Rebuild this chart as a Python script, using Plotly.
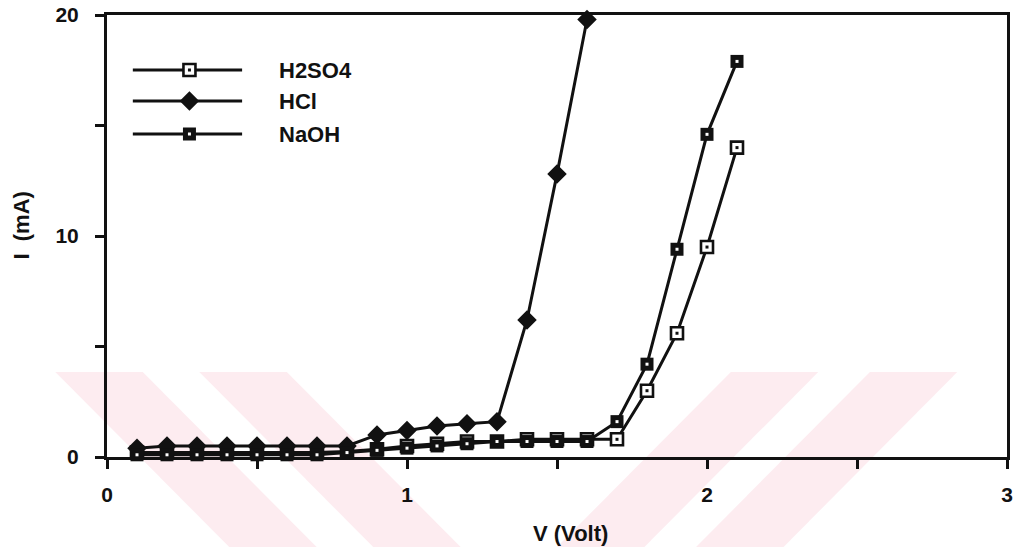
import plotly.graph_objects as go

# Current-voltage measurements in three electrolytes
volts = [0.1, 0.2, 0.3, 0.4, 0.5, 0.6, 0.7, 0.8, 0.9, 1.0, 1.1,
         1.2, 1.3, 1.4, 1.5, 1.6, 1.7, 1.8, 1.9, 2.0, 2.1]
volts_hcl = volts[:16]

h2so4_ma = [0.2, 0.2, 0.2, 0.2, 0.2, 0.2, 0.2, 0.25, 0.35, 0.5, 0.6,
            0.7, 0.7, 0.8, 0.8, 0.8, 0.8, 3.0, 5.6, 9.5, 14.0]
hcl_ma = [0.4, 0.5, 0.5, 0.5, 0.5, 0.5, 0.5, 0.5, 1.0, 1.2, 1.4,
          1.5, 1.6, 6.2, 12.8, 19.8]
naoh_ma = [0.1, 0.1, 0.1, 0.1, 0.1, 0.1, 0.1, 0.2, 0.3, 0.4, 0.5,
           0.6, 0.7, 0.7, 0.7, 0.7, 1.6, 4.2, 9.4, 14.6, 17.9]

series_names = ["H2SO4", "HCl", "NaOH"]

x_tickvals = [0, 0.5, 1, 1.5, 2, 2.5, 3]
x_ticktext = ["0", "", "1", "", "2", "", "3"]
y_tickvals = [0, 5, 10, 15, 20]
y_ticktext = ["0", "", "10", "", "20"]

INK = "#111111"
TINT = "rgba(246, 170, 185, 0.22)"
FONT = "Liberation Sans, Arial, sans-serif"

W, H = 1016, 547
M_L, M_R, M_T, M_B = 107, 3, 15, 90
PLOT_W, PLOT_H = W - M_L - M_R, H - M_T - M_B


def px_x(px):
    """Page pixel column -> paper x (0..1 across the plot area)."""
    return (px - M_L) / PLOT_W


def px_y(py):
    """Page pixel row -> paper y (0..1 up the plot area)."""
    return (H - M_B - py) / PLOT_H


marker_styles = {
    "H2SO4": dict(symbol="square", size=12, color="white",
                  line=dict(color=INK, width=2.6)),
    "HCl": dict(symbol="diamond", size=15, color=INK,
                line=dict(color=INK, width=0)),
    "NaOH": dict(symbol="square", size=13, color=INK,
                 line=dict(color=INK, width=0)),
}

fig = go.Figure()

series = [("H2SO4", volts, h2so4_ma), ("HCl", volts_hcl, hcl_ma),
          ("NaOH", volts, naoh_ma)]
for name, xs, ys in series:
    fig.add_trace(go.Scatter(
        x=xs, y=ys, name=name, mode="lines+markers",
        line=dict(color=INK, width=3),
        marker=marker_styles[name], cliponaxis=False, showlegend=False,
    ))
# small centre dots inside the square markers
for name, xs, ys in [("H2SO4", volts, h2so4_ma), ("NaOH", volts, naoh_ma)]:
    fig.add_trace(go.Scatter(
        x=xs, y=ys, mode="markers", hoverinfo="skip", showlegend=False,
        marker=dict(symbol="square", size=3,
                    color=INK if name == "H2SO4" else "white"),
        cliponaxis=False,
    ))

# key drawn on an overlay axis spanning the plot area (0..1 in both directions)
key_rows = [px_y(70), px_y(101), px_y(134)]
key_x0, key_xm, key_x1, key_tx = px_x(133), px_x(190), px_x(243), px_x(278)
for name, row in zip(series_names, key_rows):
    fig.add_trace(go.Scatter(
        x=[key_x0, key_x1], y=[row, row], mode="lines", xaxis="x2", yaxis="y2",
        line=dict(color=INK, width=3), hoverinfo="skip", showlegend=False,
    ))
    fig.add_trace(go.Scatter(
        x=[key_xm], y=[row], mode="markers", xaxis="x2", yaxis="y2",
        marker=marker_styles[name], hoverinfo="skip", showlegend=False,
    ))
    if name != "HCl":
        fig.add_trace(go.Scatter(
            x=[key_xm], y=[row], mode="markers", xaxis="x2", yaxis="y2",
            marker=dict(symbol="square", size=3,
                        color=INK if name == "H2SO4" else "white"),
            hoverinfo="skip", showlegend=False,
        ))
    fig.add_annotation(
        x=key_tx, y=row, xref="x2", yref="y2", text=name, showarrow=False,
        xanchor="left", yanchor="middle",
        font=dict(family=FONT, size=22, color=INK, weight="bold"),
    )

# axis titles
fig.add_annotation(
    x=px_x(574), y=px_y(533), xref="paper", yref="paper",
    text="V (Volt)", showarrow=False, xanchor="center", yanchor="middle",
    font=dict(family=FONT, size=22, color=INK, weight="bold"),
)
fig.add_annotation(
    x=px_x(20), y=px_y(226), xref="paper", yref="paper",
    text="I  (mA)", showarrow=False, textangle=-90,
    xanchor="center", yanchor="middle",
    font=dict(family=FONT, size=22, color=INK, weight="bold"),
)


# faint diagonal background tint in the lower part of the page
def band(x_top, x_bottom, width, y_top=372, y_bottom=547):
    pts = [(x_top, y_top), (x_top + width, y_top),
           (x_bottom + width, y_bottom), (x_bottom, y_bottom)]
    d = " L ".join(f"{px_x(x):.4f} {px_y(y):.4f}" for x, y in pts)
    return "M " + d + " Z"


for x_top, x_bottom in [(55, 230), (200, 375), (735, 560), (875, 700)]:
    fig.add_shape(type="path", path=band(x_top, x_bottom, 88),
                  xref="paper", yref="paper", fillcolor=TINT,
                  line=dict(width=0), layer="below")

axis_common = dict(
    showline=True, linecolor=INK, linewidth=3, mirror=True,
    ticks="outside", ticklen=9, tickwidth=2.5, tickcolor=INK,
    showgrid=False, zeroline=False,
    tickfont=dict(family=FONT, size=21, color=INK, weight="bold"),
)

fig.update_layout(
    width=W, height=H,
    margin=dict(l=M_L, r=M_R, t=M_T, b=M_B),
    paper_bgcolor="white", plot_bgcolor="rgba(0,0,0,0)",
    showlegend=False,
    xaxis=dict(range=[0, 3], tickvals=x_tickvals, ticktext=x_ticktext,
               ticklabelstandoff=8, **axis_common),
    yaxis=dict(range=[0, 20], tickvals=y_tickvals, ticktext=y_ticktext,
               ticklabelstandoff=12, **axis_common),
    xaxis2=dict(range=[0, 1], overlaying="x", anchor="y2", visible=False),
    yaxis2=dict(range=[0, 1], overlaying="y", anchor="x2", visible=False),
)

fig.write_html("out.html")
